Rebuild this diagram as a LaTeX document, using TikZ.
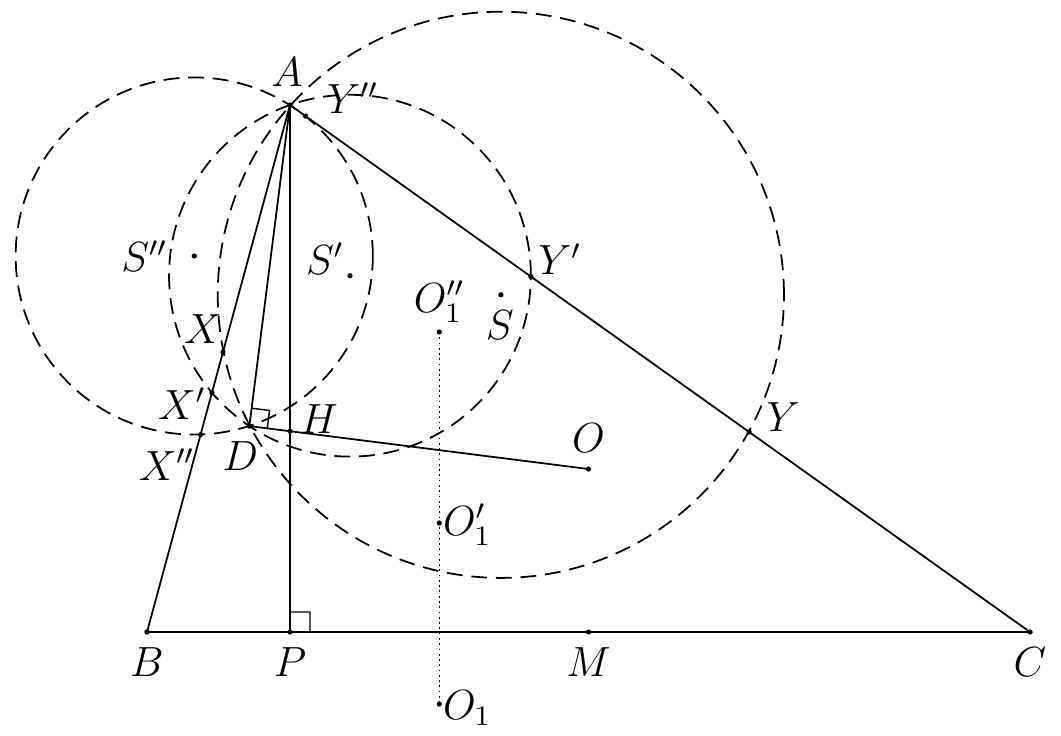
\documentclass[tikz,border=0pt]{standalone}
\usetikzlibrary{calc,positioning}

\begin{document}
\begin{tikzpicture}[
        x=0.01cm, y=-0.01cm,
        font=\large,
        every path/.style={line width=0.5pt},
        lbl/.style={inner sep=0pt},
        circ/.style={dash pattern=on 4.5pt off 2.5pt},
        rmark/.style={line width=0.4pt}
    ]
    \useasboundingbox (0,0) rectangle (1061,735);

    % Points
    \coordinate (A) at (290,105);
    \coordinate (B) at (147,632);
    \coordinate (C) at (1030,632);
    \coordinate (O) at (588.5,469);
    \coordinate (P) at ($(B)!(A)!(C)$);
    \coordinate (M) at ($(B)!.5!(C)$);
    \coordinate (Q) at ($(A)!(B)!(C)$);
    \coordinate (H) at (intersection of A--P and B--Q);
    \coordinate (D) at ($(O)!(A)!(H)$);
    \coordinate (N) at ($(A)!.5!(D)$);
    \coordinate (S) at ($(N)!1.44!-90:(A)$);
    \coordinate (S1) at ($(N)!.5!-90:(A)$);
    \coordinate (S2) at ($(N)!-.47!-90:(A)$);
    \coordinate (Fx) at ($(A)!(S)!(B)$);
    \coordinate (Fx1) at ($(A)!(S1)!(B)$);
    \coordinate (Fx2) at ($(A)!(S2)!(B)$);
    \coordinate (Fy) at ($(A)!(S)!(C)$);
    \coordinate (Fy1) at ($(A)!(S1)!(C)$);
    \coordinate (Fy2) at ($(A)!(S2)!(C)$);
    \coordinate (X) at ($(A)!2!(Fx)$);
    \coordinate (X1) at ($(A)!2!(Fx1)$);
    \coordinate (X2) at ($(A)!2!(Fx2)$);
    \coordinate (Y) at ($(A)!2!(Fy)$);
    \coordinate (Y1) at ($(A)!2!(Fy1)$);
    \coordinate (Y2) at ($(A)!2!(Fy2)$);
    \coordinate (O1) at ($(P)!.5!(M)+(0,72)$);
    \coordinate (O1a) at ($(P)!.5!(M)+(0,-109)$);
    \coordinate (O1b) at ($(P)!.5!(M)+(0,-300)$);

    % Circles
    \foreach \c in {S,S1,S2}
        \draw[circ] (\c) let \p1=($(A)-(\c)$) in circle ({veclen(\x1,\y1)});

    % Lines
    \draw (A) -- (B) -- (C) -- cycle;
    \draw (A) -- (D) -- (O);
    \draw[thick] (A) -- (P);
    \draw[densely dotted, line width=0.4pt] (O1b) -- (O1);

    % Right angles
    \draw[rmark] ($(P)!0.2cm!(A)$) -- ($(P)!0.2cm!(A)+(20,0)$) -- ($(P)!0.2cm!(C)$);
    \coordinate (Da) at ($(D)!0.18cm!(A)$);
    \coordinate (Do) at ($(D)!0.18cm!(O)$);
    \draw[rmark] (Da) -- ($(Da)+(Do)-(D)$) -- (Do);

    % Dots
    \foreach \p in {A,B,C,P,M,O,H,D,S,S1,S2,X,X1,X2,Y,Y1,Y2,O1,O1a,O1b}
        \fill (\p) circle (0.75pt);

    % Labels
    \node[lbl] (lA) at ($(A)+(-3,-33)$) {$A$};
    \node[lbl] (lB) at ($(B)+(0,30)$) {$B$};
    \node[lbl] (lC) at ($(C)+(0,30)$) {$C$};
    \node[lbl] (lP) at ($(P)+(0,30)$) {$P$};
    \node[lbl] (lM) at ($(M)+(0,30)$) {$M$};
    \node[lbl] (lO) at ($(O)+(0,-31)$) {$O$};
    \node[lbl] (lH) at ($(H)+(29,-12)$) {$H$};
    \node[lbl] (lD) at ($(D)+(-9,30)$) {$D$};
    \node[lbl] (lS) at ($(S)+(-1,30)$) {$S$};
    \node[lbl] (lS1) at ($(S1)+(-25,-17)$) {$S'$};
    \node[lbl] (lS2) at ($(S2)+(-50,0)$) {$S''$};
    \node[lbl] (lX) at ($(X)+(-20,-23)$) {$X$};
    \node[lbl] (lX1) at ($(X1)+(-30,11)$) {$X'$};
    \node[lbl] (lX2) at ($(X2)+(-34,30)$) {$X''$};
    \node[lbl] (lY) at ($(Y)+(34,-15)$) {$Y$};
    \node[lbl] (lY1) at ($(Y1)+(29,-17)$) {$Y'$};
    \node[lbl] (lY2) at ($(Y2)+(47,-18)$) {$Y''$};
    \node[lbl] (lO1) at ($(O1)+(28,4)$) {$O_1$};
    \node[lbl] (lO1a) at ($(O1a)+(28,2)$) {$O_1'$};
    \node[lbl] (lO1b) at ($(O1b)+(0,-30)$) {$O_1''$};
\end{tikzpicture}
\end{document}
